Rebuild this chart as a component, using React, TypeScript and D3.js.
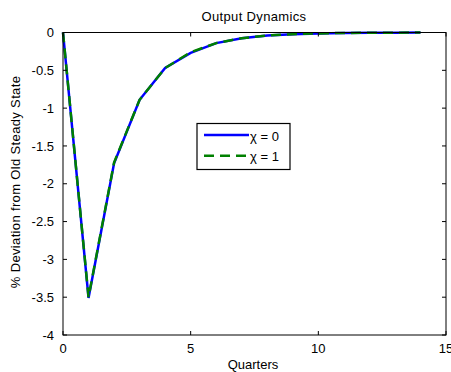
import React, { useEffect, useRef } from "react";
import * as d3 from "d3";

// data
const quarters = [0, 1, 2, 3, 4, 5, 6, 7, 8, 9, 10, 11, 12, 13, 14];
const chi0 = [0, -3.51, -1.73, -0.89, -0.47, -0.27, -0.14, -0.075, -0.04, -0.022, -0.012, -0.006, -0.003, -0.002, -0.001];
const chi1 = [0, -3.5, -1.72, -0.89, -0.47, -0.26, -0.14, -0.075, -0.04, -0.022, -0.012, -0.006, -0.003, -0.002, -0.001];
const xTicks = [0, 5, 10, 15];
const yTicks = [0, -0.5, -1, -1.5, -2, -2.5, -3, -3.5, -4];
const seriesNames = ["χ = 0", "χ = 1"];

const W = 451;
const H = 372;

const App = () => {
  const ref = useRef<SVGSVGElement>(null);

  useEffect(() => {
    const svg = d3.select(ref.current);
    svg.selectAll("*").remove();
    const left = 63, right = 446, top = 32.5, bottom = 335;
    const font = "Liberation Sans, Arial, sans-serif";
    const fs = "13px";

    const x = d3.scaleLinear().domain([0, 15]).range([left, right]);
    const y = d3.scaleLinear().domain([-4, 0]).range([bottom, top]);

    const g = svg.append("g");

    // lines
    const line = (vals: number[]) =>
      d3.line<number>().x((_, i) => x(quarters[i])).y((d) => y(d))(vals);

    g.append("path")
      .attr("d", line(chi0))
      .attr("fill", "none")
      .attr("stroke", "#0000ff")
      .attr("stroke-width", 2.5);
    g.append("path")
      .attr("d", line(chi1))
      .attr("fill", "none")
      .attr("stroke", "#008000")
      .attr("stroke-width", 2.5)
      .attr("stroke-dasharray", "10,6");

    // box
    g.append("rect")
      .attr("x", left)
      .attr("y", top)
      .attr("width", right - left)
      .attr("height", bottom - top)
      .attr("fill", "none")
      .attr("stroke", "#000")
      .attr("stroke-width", 1);

    // ticks on all sides, pointing in
    const tl = 4;
    xTicks.forEach((t) => {
      g.append("line").attr("x1", x(t)).attr("x2", x(t)).attr("y1", bottom).attr("y2", bottom - tl).attr("stroke", "#000");
      g.append("line").attr("x1", x(t)).attr("x2", x(t)).attr("y1", top).attr("y2", top + tl).attr("stroke", "#000");
      g.append("text")
        .attr("x", x(t))
        .attr("y", 353)
        .attr("text-anchor", "middle")
        .style("font-family", font)
        .style("font-size", fs)
        .text(t);
    });
    yTicks.forEach((t) => {
      g.append("line").attr("x1", left).attr("x2", left + tl).attr("y1", y(t)).attr("y2", y(t)).attr("stroke", "#000");
      g.append("line").attr("x1", right).attr("x2", right - tl).attr("y1", y(t)).attr("y2", y(t)).attr("stroke", "#000");
      g.append("text")
        .attr("x", 54)
        .attr("y", y(t) + 4.6)
        .attr("text-anchor", "end")
        .style("font-family", font)
        .style("font-size", fs)
        .text(t);
    });

    // titles
    g.append("text")
      .attr("x", 254)
      .attr("y", 20.7)
      .attr("text-anchor", "middle")
      .style("font-family", font)
      .style("font-size", fs)
      .style("letter-spacing", "0.35px")
      .text("Output Dynamics");
    g.append("text")
      .attr("x", 253)
      .attr("y", 368.5)
      .attr("text-anchor", "middle")
      .style("font-family", font)
      .style("font-size", fs)
      .text("Quarters");
    g.append("text")
      .attr("transform", `translate(20,182) rotate(-90)`)
      .attr("text-anchor", "middle")
      .style("font-family", font)
      .style("font-size", fs)
      .style("letter-spacing", "0.35px")
      .text("% Deviation from Old Steady State");

    // legend
    const lg = g.append("g");
    lg.append("rect")
      .attr("x", 197)
      .attr("y", 123.5)
      .attr("width", 93)
      .attr("height", 46)
      .attr("fill", "#fff")
      .attr("stroke", "#000")
      .attr("stroke-width", 1.2);
    const colors = ["#0000ff", "#008000"];
    const dashes = [null, "10,6"];
    seriesNames.forEach((n, i) => {
      const yy = 135 + i * 20.7;
      lg.append("line")
        .attr("x1", 204)
        .attr("x2", 249)
        .attr("y1", yy)
        .attr("y2", yy)
        .attr("stroke", colors[i])
        .attr("stroke-width", 2.5)
        .attr("stroke-dasharray", dashes[i]);
      lg.append("text")
        .attr("x", 250)
        .attr("y", yy + 5.6)
        .style("font-family", font)
        .style("font-size", fs)
        .text(n);
    });
  }, []);

  return (
    <svg
      ref={ref}
      width={W}
      height={H}
      style={{ position: "absolute", left: 0, top: 0, background: "#fff" }}
    />
  );
};

export default App;
